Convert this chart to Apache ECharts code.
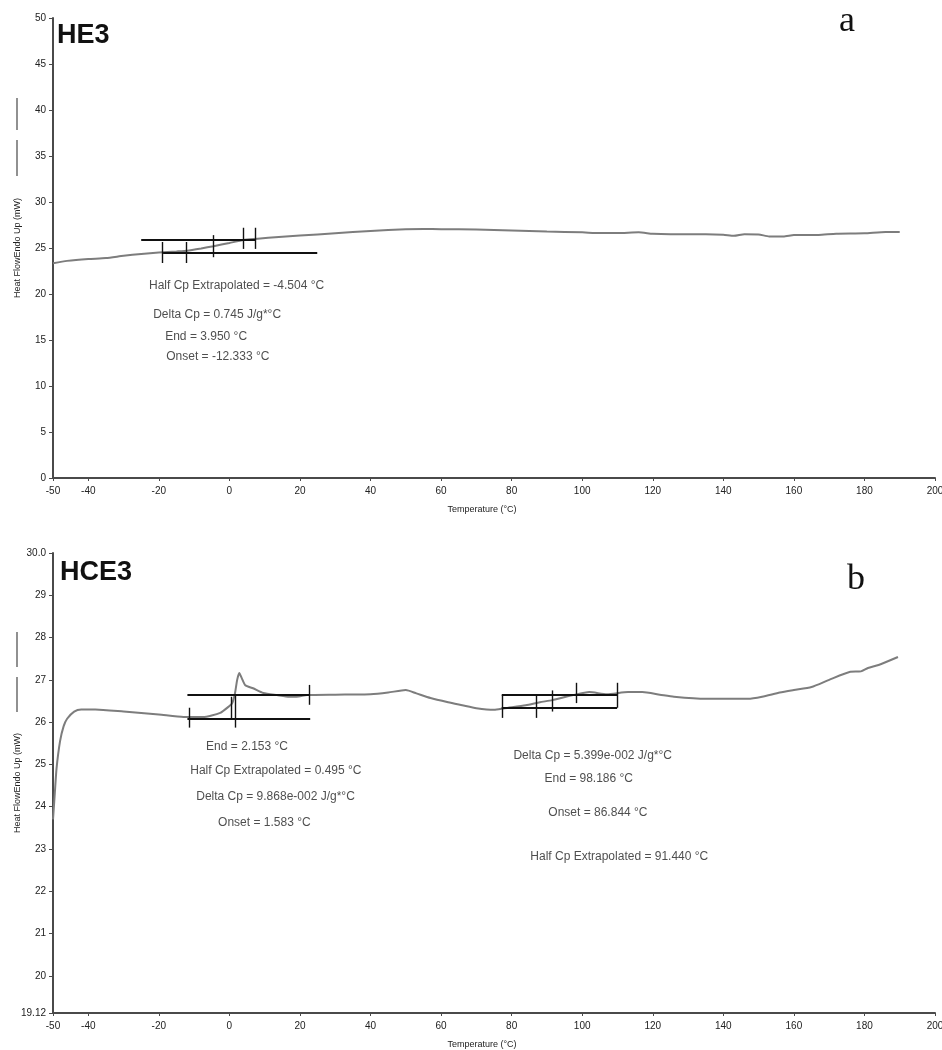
<!DOCTYPE html>
<html><head><meta charset="utf-8">
<script src="https://cdn.jsdelivr.net/npm/echarts@6/dist/echarts.min.js"></script>
<style>html,body{margin:0;padding:0;background:#fff}#c{width:942px;height:1050px}</style>
</head><body><div id="c"></div>
<script>
// ---------- data ----------
const xTickValues = [-50,-40,-20,0,20,40,60,80,100,120,140,160,180,200];
const yTickValuesA = [0,5,10,15,20,25,30,35,40,45,50];
const yTickValuesB = [19.12,20,21,22,23,24,25,26,27,28,29,30];

// HE3 curve (temperature °C, heat flow mW)
const heTemp = [-50,-46,-40,-35,-30,-25,-20,-15,-12,-8,-4.5,0,4,8,14,20,30,40,50,55,60,70,80,90,100,105,110,116,120,125,135,140,143,146,150,153,157,160,167,172,180,186,190];
const heFlow = [23.35,23.6,23.8,23.9,24.15,24.35,24.5,24.62,24.7,24.95,25.2,25.55,25.87,26.0,26.2,26.35,26.6,26.85,27.03,27.06,27.05,27.0,26.9,26.8,26.7,26.62,26.62,26.7,26.55,26.5,26.5,26.45,26.32,26.5,26.48,26.25,26.25,26.4,26.42,26.55,26.6,26.75,26.75];

// HCE3 curve
const hceTemp = [-50,-49.5,-49,-48,-47,-46,-44,-42,-38,-30,-20,-13,-7.5,-2.6,0,0.8,1.6,2.2,2.8,3.5,4.5,6.7,9.6,13.5,17,19,22,30,40,45,50,53,57,62,66,70,75,78,84,88,91.5,97.5,102,107,113,117,122,126,135,147,151,156,160,165,170,176,179,181,184,189.5];
const hceFlow = [23.7,24.3,24.9,25.55,25.9,26.08,26.25,26.3,26.3,26.25,26.18,26.12,26.12,26.22,26.38,26.45,26.69,27.0,27.16,27.04,26.87,26.8,26.69,26.64,26.6,26.6,26.64,26.65,26.66,26.7,26.76,26.68,26.57,26.47,26.4,26.33,26.29,26.33,26.4,26.47,26.52,26.64,26.71,26.66,26.71,26.71,26.65,26.6,26.55,26.55,26.6,26.7,26.76,26.83,27.0,27.19,27.2,27.28,27.35,27.54];

// Baseline construction segments [[x1,y1],[x2,y2]]
const heBaselines = [[[-25.0,25.87],[7.3,25.87]], [[-18.8,24.5],[24.9,24.5]]];
const heMarkers = [[-18.9,25.65,23.37],[-12.333,25.65,23.37],[-4.504,26.4,24.0],[3.95,27.2,24.9],[7.3,27.2,24.9]];
const hceBaselines = [[[-11.9,26.64],[22.7,26.64]], [[-11.9,26.09],[22.9,26.09]],
                      [[77.2,26.64],[109.9,26.64]], [[77.2,26.35],[109.9,26.35]]];
const hceMarkers = [[-11.3,26.34,25.87],[0.495,26.6,26.09],[1.583,26.64,25.87],[22.7,26.88,26.41],
                    [77.2,26.64,26.1],[86.844,26.64,26.1],[91.44,26.75,26.25],[98.186,26.93,26.45],[109.9,26.93,26.34]];

// Annotation texts anchored in data units [x, y, text]
const heNotes = [
  [-22.8,20.87,'Half Cp Extrapolated = -4.504 °C'],
  [-21.6,17.8,'Delta Cp = 0.745 J/g*°C'],
  [-18.2,15.36,'End = 3.950 °C'],
  [-17.9,13.18,'Onset = -12.333 °C']
];
const hceNotes = [
  [-6.6,25.42,'End = 2.153 °C'],
  [-11.1,24.85,'Half Cp Extrapolated = 0.495 °C'],
  [-9.4,24.24,'Delta Cp = 9.868e-002 J/g*°C'],
  [-3.2,23.63,'Onset = 1.583 °C'],
  [80.5,25.2,'Delta Cp = 5.399e-002 J/g*°C'],
  [89.3,24.66,'End = 98.186 °C'],
  [90.4,23.86,'Onset = 86.844 °C'],
  [85.3,22.82,'Half Cp Extrapolated = 91.440 °C']
];

const yName = 'Heat FlowEndo Up (mW)';
const xName = 'Temperature (°C)';

// ---------- build ----------
const F = 'Arial, "Liberation Sans", sans-serif';
const axisCol = '#4a4a4a';
function xAxis(gi){
  return {type:'value', gridIndex:gi, min:-50, max:200,
    name:xName, nameLocation:'middle', nameGap:27, nameMoveOverlap:false,
    nameTextStyle:{fontFamily:F, fontSize:9, color:'#222', padding:[0,24,0,0]},
    axisLine:{show:true, onZero:false, lineStyle:{color:axisCol, width:2}},
    axisTick:{show:true, length:3, lineStyle:{color:axisCol}, customValues:xTickValues},
    axisLabel:{fontFamily:F, fontSize:10, color:'#222', margin:8, customValues:xTickValues},
    splitLine:{show:false}};
}
function yAxis(gi, min, max, ticks, fmt){
  return {type:'value', gridIndex:gi, min:min, max:max,
    name:yName, nameLocation:'middle', nameGap:31, nameMoveOverlap:false,
    nameTextStyle:{fontFamily:F, fontSize:9, color:'#222'},
    axisLine:{show:true, onZero:false, lineStyle:{color:axisCol, width:2}},
    axisTick:{show:true, length:4, lineStyle:{color:axisCol}, customValues:ticks},
    axisLabel:{fontFamily:F, fontSize:10, color:'#222', margin:7, customValues:ticks, formatter:fmt},
    splitLine:{show:false}};
}
function curve(i, xs, ys){
  return {type:'line', xAxisIndex:i, yAxisIndex:i, showSymbol:false, symbol:'none', smooth:0.2,
    data: xs.map((x,k)=>[x, ys[k]]), lineStyle:{color:'#7d7d7d', width:2}, silent:true, z:2};
}
function segs(i, base, markers){
  const data = base.map(s=>({coords:s}));
  markers.forEach(m=>data.push({coords:[[m[0],m[1]],[m[0],m[2]]], lineStyle:{width:1.4}}));
  return {type:'lines', coordinateSystem:'cartesian2d', xAxisIndex:i, yAxisIndex:i, polyline:false,
    data:data, lineStyle:{color:'#111', width:2, opacity:1}, silent:true, z:3};
}
function notes(i, arr){
  return {type:'scatter', xAxisIndex:i, yAxisIndex:i, symbolSize:0, silent:true,
    data: arr.map(a=>({value:[a[0],a[1]], name:a[2]})),
    label:{show:true, position:'right', distance:0, formatter:'{b}', fontFamily:F, fontSize:12, color:'#222'}};
}

const chart = echarts.init(document.getElementById('c'), null, {renderer:'canvas'});
chart.setOption({
  animation:false,
  backgroundColor:'#fff',
  grid:[{left:53, width:882, top:18, height:460, containLabel:false, outerBoundsMode:'none'},
        {left:53, width:882, top:553, height:460, containLabel:false, outerBoundsMode:'none'}],
  xAxis:[xAxis(0), xAxis(1)],
  yAxis:[yAxis(0,0,50,yTickValuesA,v=>String(v)),
         yAxis(1,19.12,30,yTickValuesB,v=> v===30?'30.0':(Math.abs(v-19.12)<1e-6?'19.12':String(Math.round(v))))],
  series:[curve(0,heTemp,heFlow), segs(0,heBaselines,heMarkers), notes(0,heNotes),
          curve(1,hceTemp,hceFlow), segs(1,hceBaselines,hceMarkers), notes(1,hceNotes)],
  graphic:[
    {type:'text', left:57, top:22, style:{text:'HE3', font:'bold 27px '+F, fill:'#111'}},
    {type:'text', left:60, top:559, style:{text:'HCE3', font:'bold 27px '+F, fill:'#111'}},
    {type:'text', left:839, top:4, style:{text:'a', font:'36px "Liberation Serif", "Times New Roman", serif', fill:'#111'}},
    {type:'text', left:847, top:562, style:{text:'b', font:'36px "Liberation Serif", "Times New Roman", serif', fill:'#111'}},
    {type:'line', shape:{x1:17,y1:98,x2:17,y2:130}, style:{stroke:'#555', lineWidth:1.3}},
    {type:'line', shape:{x1:17,y1:140,x2:17,y2:176}, style:{stroke:'#555', lineWidth:1.3}},
    {type:'line', shape:{x1:17,y1:632,x2:17,y2:667}, style:{stroke:'#555', lineWidth:1.3}},
    {type:'line', shape:{x1:17,y1:677,x2:17,y2:712}, style:{stroke:'#555', lineWidth:1.3}}
  ]
});
</script>
</body></html>
